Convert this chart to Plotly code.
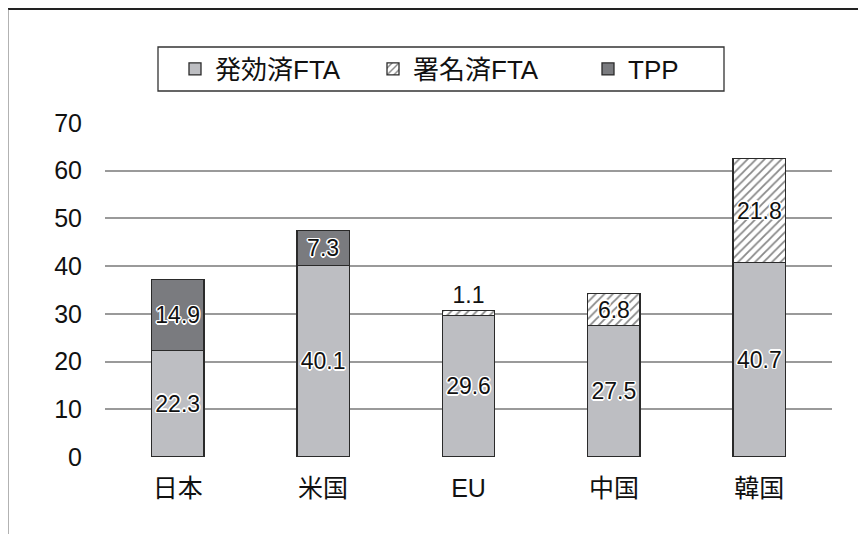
import plotly.graph_objects as go

categories = ["日本", "米国", "EU", "中国", "韓国"]
effective_fta = [22.3, 40.1, 29.6, 27.5, 40.7]
signed_fta = [0, 0, 1.1, 6.8, 21.8]
tpp = [14.9, 7.3, 0, 0, 0]
series_names = ["発効済FTA", "署名済FTA", "TPP"]
y_ticks = [0, 10, 20, 30, 40, 50, 60, 70]

FONT = "Liberation Sans, Arial, Noto Sans CJK JP, sans-serif"
HALO = ("1px 1px 0 #fff, -1px -1px 0 #fff, 1px -1px 0 #fff, -1px 1px 0 #fff, "
        "0 1.5px 0 #fff, 0 -1.5px 0 #fff, 1.5px 0 0 #fff, -1.5px 0 0 #fff")
OUTLINE = dict(color="#2a2a2a", width=1.3)
TXT = dict(family=FONT, size=23, color="#111111", shadow=HALO)

def labels(vals):
    return [f"{v:.1f}" if v > 0 else "" for v in vals]

fig = go.Figure()
fig.add_trace(go.Bar(
    x=categories, y=effective_fta, name=series_names[0], legend="legend",
    marker=dict(color="#bdbec2", line=OUTLINE),
    text=labels(effective_fta), textposition="inside", insidetextanchor="middle",
    textangle=0, textfont=TXT, constraintext="none",
))
fig.add_trace(go.Bar(
    x=categories, y=signed_fta, name=series_names[1], legend="legend2",
    marker=dict(color="white", line=OUTLINE,
                pattern=dict(shape="/", fgcolor="#111111", bgcolor="white", size=6, solidity=0.3)),
    text=labels(signed_fta),
    textposition=["inside", "inside", "outside", "inside", "inside"],
    insidetextanchor="middle",
    textangle=0, textfont=TXT, constraintext="none", cliponaxis=False,
))
fig.add_trace(go.Bar(
    x=categories, y=tpp, name=series_names[2], legend="legend3",
    marker=dict(color="#7a7b7f", line=OUTLINE),
    text=labels(tpp), textposition="inside", insidetextanchor="middle",
    textangle=0, textfont=TXT, constraintext="none",
))

# figure is offset by the 8px page margin
W, H = 858, 526
L, R, T, B = 97, 34, 115, 77
pw, ph = W - L - R, H - T - B

def px_x(x):
    return (x - 8 - L) / pw

def px_y(y):
    return (H - B - (y - 8)) / ph

LEG_FONT = dict(family=FONT, size=26, color="#111111")

def leg(xpage):
    return dict(orientation="h", x=px_x(xpage), xanchor="left", y=px_y(69), yanchor="middle",
                borderwidth=0, bgcolor="rgba(0,0,0,0)", font=LEG_FONT)

fig.update_layout(
    width=W, height=H,
    margin=dict(l=L, r=R, t=T, b=B),
    barmode="stack", bargap=0.64,
    plot_bgcolor="white", paper_bgcolor="white",
    font=dict(family=FONT, size=25, color="#111111"),
    showlegend=True,
    legend=leg(175),
    legend2=leg(373),
    legend3=leg(588),
    xaxis=dict(showgrid=False, showline=False, ticks="", ticklabelstandoff=14,
               tickfont=dict(family=FONT, size=25, color="#111111")),
    yaxis=dict(range=[0, 70], tickvals=y_ticks, showgrid=True, gridcolor="#9a9a9a",
               gridwidth=1.5, zeroline=False, showline=False, ticks="",
               ticklabelstandoff=22,
               tickfont=dict(family=FONT, size=25, color="#111111")),
    shapes=[
        dict(type="rect", xref="paper", yref="paper", x0=px_x(158), x1=px_x(724),
             y0=px_y(47), y1=px_y(91), line=dict(color="#333", width=1.3), layer="below"),
        dict(type="line", xref="paper", yref="paper", x0=px_x(-5), x1=px_x(880),
             y0=px_y(9), y1=px_y(9), line=dict(color="#222", width=2)),
        dict(type="line", xref="paper", yref="paper", x0=px_x(7.5), x1=px_x(7.5),
             y0=px_y(9), y1=px_y(540), line=dict(color="#666", width=2)),
    ],
)

fig.write_html("out.html")
